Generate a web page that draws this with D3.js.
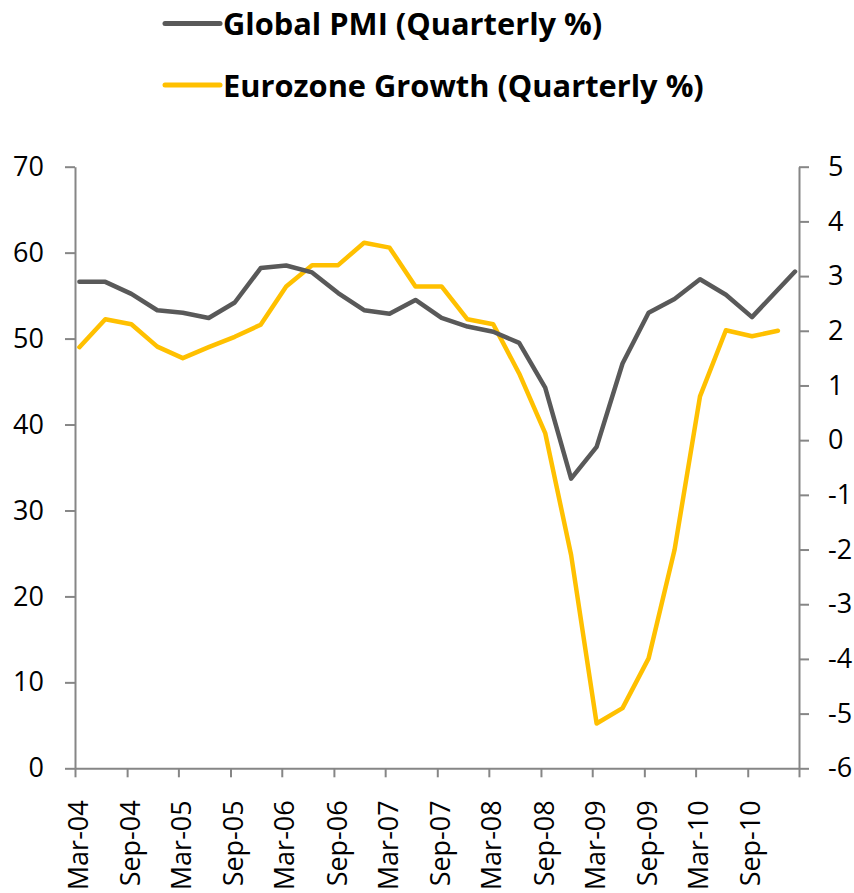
<!DOCTYPE html>
<html>
<head>
<meta charset="utf-8">
<script src="https://cdn.jsdelivr.net/npm/d3@7"></script>
<style>
  body { margin: 0; background: #fff; }
  svg { display: block; }
  text { font-family: 'Open Sans', sans-serif; fill: #000; }
</style>
</head>
<body>
<div id="chart"></div>
<script>
// quarterly data, last PMI reading is Feb-11
const pmiMonths = ['2004-03', '2004-06', '2004-09', '2004-12', '2005-03', '2005-06', '2005-09', '2005-12',
    '2006-03', '2006-06', '2006-09', '2006-12', '2007-03', '2007-06', '2007-09', '2007-12',
    '2008-03', '2008-06', '2008-09', '2008-12', '2009-03', '2009-06', '2009-09', '2009-12',
    '2010-03', '2010-06', '2010-09', '2011-02'];
const pmiValues = [56.6, 56.6, 55.2, 53.3, 53.0, 52.4, 54.2, 58.2,
    58.5, 57.7, 55.3, 53.3, 52.9, 54.5, 52.4, 51.4,
    50.8, 49.5, 44.3, 33.7, 37.4, 47.1, 53.0, 54.6,
    56.9, 55.1, 52.5, 57.8];

const growthMonths = ['2004-03', '2004-06', '2004-09', '2004-12', '2005-03', '2005-06', '2005-09', '2005-12',
    '2006-03', '2006-06', '2006-09', '2006-12', '2007-03', '2007-06', '2007-09', '2007-12',
    '2008-03', '2008-06', '2008-09', '2008-12', '2009-03', '2009-06', '2009-09', '2009-12',
    '2010-03', '2010-06', '2010-09', '2010-12'];
const growthValues = [1.70, 2.21, 2.12, 1.71, 1.50, 1.70, 1.89, 2.11,
    2.81, 3.20, 3.20, 3.61, 3.52, 2.81, 2.81, 2.21,
    2.12, 1.22, 0.13, -2.10, -5.18, -4.90, -3.99, -2.01,
    0.80, 2.01, 1.90, 2.00];

const xTickLabels = ['Mar-04', 'Sep-04', 'Mar-05', 'Sep-05', 'Mar-06', 'Sep-06', 'Mar-07',
    'Sep-07', 'Mar-08', 'Sep-08', 'Mar-09', 'Sep-09', 'Mar-10', 'Sep-10'];
const leftTicks = [0, 10, 20, 30, 40, 50, 60, 70];
const rightTicks = [-6, -5, -4, -3, -2, -1, 0, 1, 2, 3, 4, 5];

const seriesNames = ['Global PMI (Quarterly %)', 'Eurozone Growth (Quarterly %)'];
const seriesColors = ['#595959', '#FFC000'];

const width = 854;
const height = 893;
const plot = { left: 75, right: 799, top: 166.7, bottom: 768.3 };
const axisColor = '#868686';

const parseMonth = d3.timeParse('%Y-%m');
const startMonth = parseMonth('2004-03');
const endMonth = parseMonth('2011-03');

const svg = d3.select('#chart')
    .append('svg')
    .attr('width', width)
    .attr('height', height);

const x = d3.scaleTime()
    .domain([startMonth, endMonth])
    .range([plot.left, plot.right]);

const yLeft = d3.scaleLinear()
    .domain([0, 70])
    .range([plot.bottom, plot.top]);

const yRight = d3.scaleLinear()
    .domain([-6, 5])
    .range([plot.bottom, plot.top]);

// points sit in the middle of their month slot
function monthCenter(str) {
    const d = parseMonth(str);
    return (x(d) + x(d3.timeMonth.offset(d, 1))) / 2;
}

// axes
const xTicks = d3.range(0, 85, 6).map(m => d3.timeMonth.offset(startMonth, m));

const xAxis = svg.append('g')
    .attr('transform', `translate(0,${plot.bottom})`)
    .call(d3.axisBottom(x)
        .tickValues(xTicks)
        .tickSize(9)
        .tickSizeOuter(0)
        .tickFormat((d, i) => xTickLabels[i] || ''));

xAxis.selectAll('.tick text')
    .attr('transform', 'rotate(-90)')
    .attr('text-anchor', 'end')
    .attr('x', -32)
    .attr('y', 0)
    .attr('dy', '0.45em')
    .attr('dx', 0);

const leftAxis = svg.append('g')
    .attr('transform', `translate(${plot.left},0)`)
    .call(d3.axisLeft(yLeft)
        .tickValues(leftTicks)
        .tickSize(10)
        .tickSizeOuter(0)
        .tickPadding(21)
        .tickFormat(d => String(d)));

const rightAxis = svg.append('g')
    .attr('transform', `translate(${plot.right},0)`)
    .call(d3.axisRight(yRight)
        .tickValues(rightTicks)
        .tickSize(10)
        .tickSizeOuter(0)
        .tickPadding(19)
        .tickFormat(d => String(d)));

[xAxis, leftAxis, rightAxis].forEach(g => {
    g.select('.domain').attr('stroke', axisColor).attr('stroke-width', 2);
    g.selectAll('.tick line').attr('stroke', axisColor).attr('stroke-width', 2);
    g.selectAll('.tick text')
        .attr('fill', '#000')
        .style('font-family', "'Open Sans', sans-serif")
        .style('font-size', '27px');
});

// lines
const pmiLine = d3.line()
    .x(d => monthCenter(d[0]))
    .y(d => yLeft(d[1]));

const growthLine = d3.line()
    .x(d => monthCenter(d[0]))
    .y(d => yRight(d[1]));

svg.append('path')
    .datum(d3.zip(growthMonths, growthValues))
    .attr('fill', 'none')
    .attr('stroke', seriesColors[1])
    .attr('stroke-width', 4.5)
    .attr('stroke-linejoin', 'round')
    .attr('stroke-linecap', 'round')
    .attr('d', growthLine);

svg.append('path')
    .datum(d3.zip(pmiMonths, pmiValues))
    .attr('fill', 'none')
    .attr('stroke', seriesColors[0])
    .attr('stroke-width', 4.5)
    .attr('stroke-linejoin', 'round')
    .attr('stroke-linecap', 'round')
    .attr('d', pmiLine);

// legend
const legend = svg.append('g');
seriesNames.forEach((name, i) => {
    const ly = 23.5 + i * 61.5;
    legend.append('line')
        .attr('x1', 165)
        .attr('x2', 220)
        .attr('y1', ly)
        .attr('y2', ly)
        .attr('stroke', seriesColors[i])
        .attr('stroke-width', 5)
        .attr('stroke-linecap', 'round');
    legend.append('text')
        .attr('x', 223)
        .attr('y', ly + 11.5)
        .style('font-size', '30.8px')
        .style('font-weight', 'bold')
        .text(name);
});
</script>
</body>
</html>
